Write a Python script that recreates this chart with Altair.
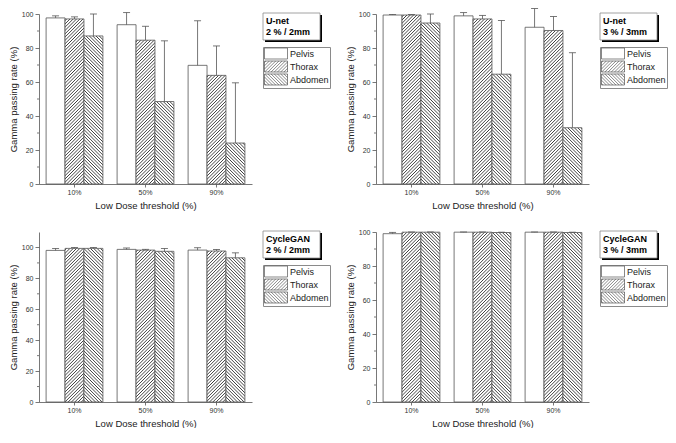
import altair as alt
import pandas as pd

# ---------------- data ----------------
thresholds = ["10%", "50%", "90%"]
organs = ["Pelvis", "Thorax", "Abdomen"]

# U-net, 2 % / 2mm (means and upper SD per threshold)
unet22_pelvis = [97.7, 93.7, 69.8]
unet22_thorax = [97.1, 84.6, 63.9]
unet22_abdomen = [87.1, 48.5, 24.1]
unet22_pelvis_sd = [1.2, 7.1, 26.2]
unet22_thorax_sd = [1.2, 8.2, 17.3]
unet22_abdomen_sd = [12.9, 35.7, 35.4]

# U-net, 3 % / 3mm
unet33_pelvis = [99.4, 98.9, 92.2]
unet33_thorax = [99.4, 97.1, 90.3]
unet33_abdomen = [94.7, 64.6, 33.1]
unet33_pelvis_sd = [0.3, 1.9, 11.0]
unet33_thorax_sd = [0.3, 2.1, 8.2]
unet33_abdomen_sd = [5.3, 31.6, 44.1]

# CycleGAN, 2 % / 2mm
cyc22_pelvis = [98.1, 98.75, 98.3]
cyc22_thorax = [99.4, 98.3, 97.7]
cyc22_abdomen = [99.4, 97.5, 93.3]
cyc22_pelvis_sd = [1.3, 0.9, 1.5]
cyc22_thorax_sd = [0.6, 0.5, 1.0]
cyc22_abdomen_sd = [0.6, 1.9, 3.2]

# CycleGAN, 3 % / 3mm
cyc33_pelvis = [99.0, 99.9, 99.9]
cyc33_thorax = [99.9, 99.9, 99.9]
cyc33_abdomen = [99.9, 99.7, 99.7]
cyc33_pelvis_sd = [0.8, 0.1, 0.1]
cyc33_thorax_sd = [0.1, 0.1, 0.1]
cyc33_abdomen_sd = [0.1, 0.2, 0.2]

panel_titles = [["U-net", "2 % / 2mm"], ["U-net", "3 % / 3mm"],
                ["CycleGAN", "2 % / 2mm"], ["CycleGAN", "3 % / 3mm"]]
panel_ymax = [100, 100, 110, 100]
y_ticks = [0, 20, 40, 60, 80, 100]
y_minor = [10, 30, 50, 70, 90]

# ---------------- style ----------------
W, H = 213, 170
BAR_W = W / 3 * 0.8 / 3
D = 3.3       # hatch spacing (px along x)
HALF = 0.95   # half width of hatch line profile
LINE = "#3a3a3a"
AX = "#555555"
FONT = "Liberation Sans"
kinds = {"Pelvis": "plain", "Thorax": "slash", "Abdomen": "back"}
BOX_X = 224   # title box / legend left, relative to plot


def bar_fill(kind, w, h):
    if kind == "plain" or h <= 0:
        return "white"
    L = w + h
    k = L / (w * w + h * h)
    a, b = w * k, h * k
    stops = [{"offset": 0, "color": "white"}]
    c = D / 2
    while c + HALF < L:
        stops.append({"offset": round((c - HALF) / L, 5), "color": "white"})
        stops.append({"offset": round(c / L, 5), "color": LINE})
        stops.append({"offset": round((c + HALF) / L, 5), "color": "white"})
        c += D
    stops.append({"offset": 1, "color": "white"})
    if kind == "slash":
        x1, y1, x2, y2 = 0, 0, a, b
    else:
        x1, y1, x2, y2 = 0, 1, a, 1 - b
    return {"gradient": "linear", "x1": x1, "y1": y1,
            "x2": round(x2, 5), "y2": round(y2, 5), "stops": stops}


# legend swatch: 23 x 11 px box drawn as a custom symbol (size 100 -> unit = 5 px)
SW_X0, SW_X1, SW_H = -1.0, 3.6, 1.1


def legend_path(kind, step=0.64):
    p = f"M{SW_X0},{-SW_H}H{SW_X1}V{SW_H}H{SW_X0}Z"
    if kind == "plain":
        return p
    c = SW_X0 - SW_H + step / 2
    while c < SW_X1 + SW_H:
        xa, xb = max(SW_X0, c - SW_H), min(SW_X1, c + SW_H)
        if xb - xa > 0.03:
            if kind == "slash":   # x + y = c
                p += f"M{xa:.3f},{c - xa:.3f}L{xb:.3f},{c - xb:.3f}"
            else:                 # x - y = c
                p += f"M{xa:.3f},{xa - c:.3f}L{xb:.3f},{xb - c:.3f}"
        c += step
    return p


shape_range = [legend_path(kinds[o]) for o in organs]


def make_panel(pelvis, thorax, abdomen, psd, tsd, asd, ymax, title_lines):
    means = {"Pelvis": pelvis, "Thorax": thorax, "Abdomen": abdomen}
    sds = {"Pelvis": psd, "Thorax": tsd, "Abdomen": asd}
    rows = []
    for org in organs:
        for j, th in enumerate(thresholds):
            m, s = means[org][j], sds[org][j]
            rows.append({"threshold": th, "organ": org, "mean": m, "top": m + s,
                         "grad": bar_fill(kinds[org], BAR_W, m / ymax * H)})
    df = pd.DataFrame(rows)

    x = alt.X("threshold:N", sort=thresholds,
              scale=alt.Scale(paddingInner=0.2, paddingOuter=0.1),
              axis=alt.Axis(title="Low Dose threshold (%)", labelAngle=0,
                            tickSize=3, labelPadding=1, titlePadding=5))
    xo = alt.XOffset("organ:N", sort=organs,
                     scale=alt.Scale(paddingInner=0, paddingOuter=0))
    yscale = alt.Scale(domain=[0, ymax], nice=False, zero=True)
    yaxis = alt.Axis(title="Gamma passing rate (%)", values=y_ticks,
                     format="d", tickSize=4, labelPadding=2, titlePadding=3)

    def Y(field):
        return alt.Y(field, scale=yscale, axis=yaxis)

    base = alt.Chart(df)
    bars = base.mark_bar(stroke=AX, strokeWidth=0.8).encode(
        x=x, xOffset=xo, y=Y("mean:Q"),
        fill=alt.Fill("grad:N", scale=None),
    )
    err = base.mark_rule(color=AX, strokeWidth=0.8).encode(
        x=x, xOffset=xo, y=Y("mean:Q"), y2="top:Q")
    cap = base.mark_tick(orient="horizontal", size=7, thickness=0.8,
                         color=AX, opacity=1).encode(
        x=x, xOffset=xo, y=Y("top:Q"))
    leg = base.mark_point(filled=False, color="#555555", strokeWidth=0.7,
                          opacity=0, size=1).encode(
        x=x, xOffset=xo, y=Y("mean:Q"),
        shape=alt.Shape("organ:N",
                        scale=alt.Scale(domain=organs, range=shape_range),
                        legend=alt.Legend(orient="none", legendX=BOX_X, legendY=33,
                                          title=None, direction="vertical",
                                          symbolSize=100, symbolOpacity=1,
                                          symbolStrokeWidth=0.7,
                                          labelFontSize=9, labelFont=FONT,
                                          labelColor="#1a1a1a", rowPadding=-4,
                                          padding=1, strokeColor="#8a8a8a",
                                          labelOffset=15, fillColor="white")))
    minor = alt.Chart(pd.DataFrame({"v": y_minor})).mark_rule(
        color=AX, strokeWidth=0.8).encode(
        y=Y("v:Q"), x=alt.value(0), x2=alt.value(-2))

    one = alt.Chart(pd.DataFrame({"k": [0]}))
    shadow = one.mark_rect(fill="black").encode(
        x=alt.value(BOX_X + 2), x2=alt.value(BOX_X + 59),
        y=alt.value(1), y2=alt.value(28))
    box = one.mark_rect(fill="white", stroke="#8a8a8a", strokeWidth=0.8).encode(
        x=alt.value(BOX_X), x2=alt.value(BOX_X + 57),
        y=alt.value(-1), y2=alt.value(26))
    txt = one.mark_text(align="left", baseline="alphabetic", fontWeight="bold",
                        fontSize=9, lineHeight=11, font=FONT, color="black").encode(
        x=alt.value(BOX_X + 3), y=alt.value(10), text=alt.value(title_lines))

    return alt.layer(bars, err, cap, minor, leg, shadow, box, txt).properties(
        width=W, height=H)


p1 = make_panel(unet22_pelvis, unet22_thorax, unet22_abdomen,
                unet22_pelvis_sd, unet22_thorax_sd, unet22_abdomen_sd,
                panel_ymax[0], panel_titles[0])
p2 = make_panel(unet33_pelvis, unet33_thorax, unet33_abdomen,
                unet33_pelvis_sd, unet33_thorax_sd, unet33_abdomen_sd,
                panel_ymax[1], panel_titles[1])
p3 = make_panel(cyc22_pelvis, cyc22_thorax, cyc22_abdomen,
                cyc22_pelvis_sd, cyc22_thorax_sd, cyc22_abdomen_sd,
                panel_ymax[2], panel_titles[2])
p4 = make_panel(cyc33_pelvis, cyc33_thorax, cyc33_abdomen,
                cyc33_pelvis_sd, cyc33_thorax_sd, cyc33_abdomen_sd,
                panel_ymax[3], panel_titles[3])

chart = alt.concat(
    p1, p2, p3, p4, columns=2,
    spacing=alt.RowColnumber(row=48, column=124), bounds="flush"
).resolve_scale(
    x="independent", y="independent", xOffset="independent",
    shape="independent").resolve_legend(shape="independent").properties(
    padding=0, background="white"
).configure_view(stroke=None).configure_axis(
    labelFont=FONT, titleFont=FONT, labelFontSize=7, titleFontSize=9.5,
    titleFontWeight="normal", labelColor="#333333", titleColor="#222222",
    domainColor=AX, tickColor=AX, domainWidth=0.8, tickWidth=0.8, grid=False)

chart.save("out.html", embed_options={"renderer": "svg", "actions": False})
